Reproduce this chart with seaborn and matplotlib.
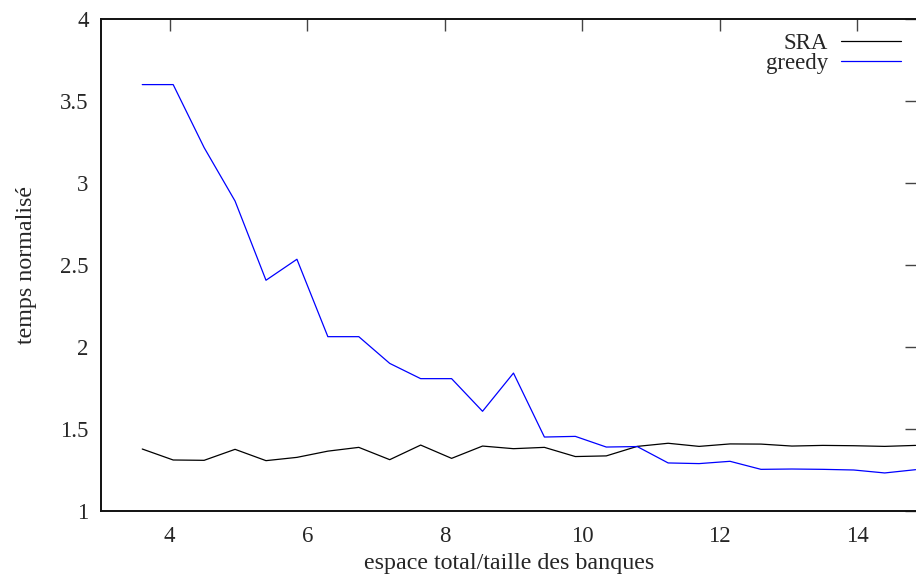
import numpy as np
import pandas as pd
import matplotlib
matplotlib.use("Agg")
import matplotlib.pyplot as plt
from matplotlib.ticker import FuncFormatter, MultipleLocator
import seaborn as sns

x_vals = [3.6, 4.05, 4.5, 4.95, 5.4, 5.85, 6.3, 6.75, 7.2, 7.65, 8.1, 8.55, 9.0,
          9.45, 9.9, 10.35, 10.8, 11.25, 11.7, 12.15, 12.6, 13.05, 13.5, 13.95, 14.4, 14.85]
sra = [1.378, 1.311, 1.309, 1.376, 1.307, 1.327, 1.365, 1.388, 1.313, 1.402, 1.321, 1.396, 1.38,
       1.388, 1.332, 1.336, 1.394, 1.413, 1.394, 1.409, 1.408, 1.396, 1.40, 1.398, 1.394, 1.40]
greedy = [3.60, 3.60, 3.216, 2.89, 2.407, 2.535, 2.063, 2.063, 1.90, 1.807, 1.807, 1.608, 1.841,
          1.451, 1.455, 1.39, 1.393, 1.293, 1.289, 1.303, 1.254, 1.256, 1.254, 1.25, 1.232, 1.252]
series_names = ["SRA", "greedy"]
colors = {"SRA": "black", "greedy": "blue"}

df = pd.DataFrame({
    "x": x_vals * 2,
    "y": sra + greedy,
    "serie": ["SRA"] * len(x_vals) + ["greedy"] * len(x_vals),
})

sns.set_style("white")
plt.rcParams["font.family"] = ["Liberation Serif", "DejaVu Serif"]
FS = 16.5
LFS = 17.3

fig = plt.figure(figsize=(9.16, 5.74), dpi=100)
ax = fig.add_axes([101 / 916, (574 - 511) / 574, (917 - 101) / 916, (511 - 19) / 574])

sns.lineplot(data=df, x="x", y="y", hue="serie", hue_order=series_names,
             palette=colors, estimator=None, linewidth=0.9, ax=ax, legend=True)

ax.set_xlim(3.0, 14.87)
ax.set_ylim(1, 4)
ax.xaxis.set_major_locator(MultipleLocator(2))
ax.yaxis.set_major_locator(MultipleLocator(0.5))
ax.yaxis.set_major_formatter(FuncFormatter(lambda v, p: f"{v:g}"))
ax.tick_params(direction="in", length=8.5, width=1, top=True, right=True,
               labelsize=FS, color="#444444", pad=9)
ax.tick_params(axis="x", pad=11)
for s in ax.spines.values():
    s.set_color("#111111")
    s.set_linewidth(1.4)

ax.set_xlabel("espace total/taille des banques", fontsize=LFS)
ax.set_ylabel("temps normalisé", fontsize=LFS)
ax.xaxis.set_label_coords(0.5, -0.086)
ax.yaxis.set_label_coords(-0.079, 0.5)

handles, labels = ax.get_legend_handles_labels()
ax.legend(handles, labels, loc="upper right", bbox_to_anchor=(0.980, 0.972),
          frameon=False, markerfirst=False, handlelength=2.6, fontsize=FS,
          labelspacing=-0.05, handletextpad=0.57, borderaxespad=0.0, borderpad=0.0)

fig.savefig("out.png", dpi=100)
